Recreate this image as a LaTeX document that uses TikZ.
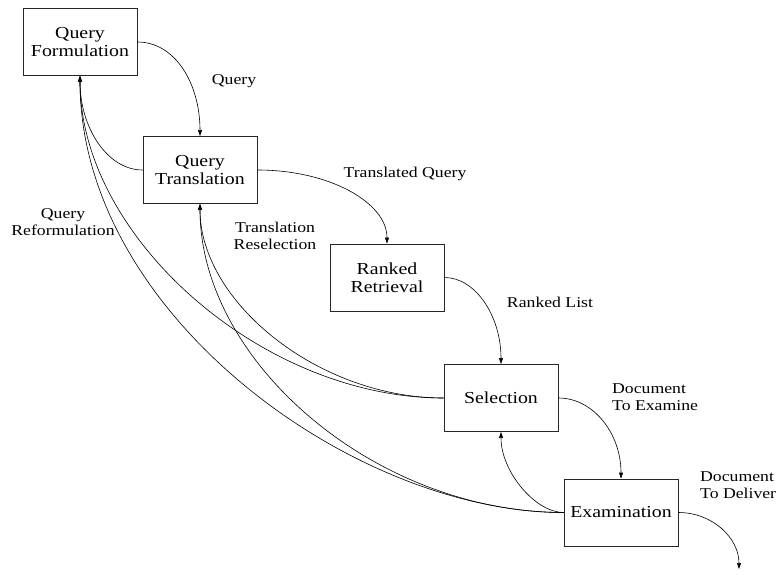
\documentclass[tikz,border=0pt]{standalone}
\usepackage{fontspec}
\setmainfont{Liberation Serif}[FakeStretch=1.18]
\usetikzlibrary{arrows.meta}
\begin{document}
\begin{tikzpicture}[x=1pt,y=-1pt,
  box/.style={draw=black!85, line width=0.9pt, minimum width=114pt, minimum height=67pt,
    align=center, font=\fontsize{16.8}{18}\selectfont, inner sep=0pt},
  lbl/.style={font=\fontsize{15}{17.5}\selectfont, inner sep=0pt, align=center},
  conn/.style={line width=0.6pt, -{Triangle[length=6pt,width=4pt]}}]
\useasboundingbox (0,0) rectangle (779,574);
\node[box] (qf)  at (80,42)    {Query\\Formulation};
\node[box] (qt)  at (200,170)  {Query\\Translation};
\node[box] (rr)  at (387,277.5){Ranked\\Retrieval};
\node[box] (sel) at (501,398)  {Selection};
\node[box] (ex)  at (621,512.5){Examination};
\coordinate (out) at (739,569);
% forward flow
\draw[conn] (qf.east)  .. controls +(38,0) and +(0,-52) .. (qt.north);
\draw[conn] (qt.east)  .. controls +(72,0) and +(0,-41) .. (rr.north);
\draw[conn] (rr.east)  .. controls +(31,0) and +(0,-48) .. (sel.north);
\draw[conn] (sel.east) .. controls +(35,0) and +(0,-45) .. (ex.north);
\draw[conn] (ex.east)  .. controls +(34,0) and +(0,-31) .. (out);
% feedback
\draw[conn] (ex.west)  .. controls +(-28,0) and +(0,40) .. (sel.south);
\draw[conn] (qt.west)  .. controls +(-35,0) and +(0,52) .. (qf.south);
\draw[conn] (sel.west) .. controls +(-182,0) and +(0,161) .. (qf.south);
\draw[conn] (ex.west)  .. controls +(-210,0) and +(0,238) .. (qf.south);
\draw[conn] (sel.west) .. controls +(-125,0) and +(0,98) .. (qt.south);
\draw[conn] (ex.west)  .. controls +(-188,0) and +(0,158) .. (qt.south);
% labels
\node[lbl] (lq)  at (234,81)  {Query};
\node[lbl] (ltq) at (405,174) {Translated Query};
\node[lbl] (lqr) at (63,222)  {Query\\Reformulation};
\node[lbl] (ltr) at (275,236) {Translation\\Reselection};
\node[lbl] (lrl) at (550,302) {Ranked List};
\node[lbl, anchor=west, align=left] (lde) at (612,397) {Document\\To Examine};
\node[lbl, anchor=west, align=left] (ldd) at (700,485) {Document\\To Deliver};
\end{tikzpicture}
\end{document}
